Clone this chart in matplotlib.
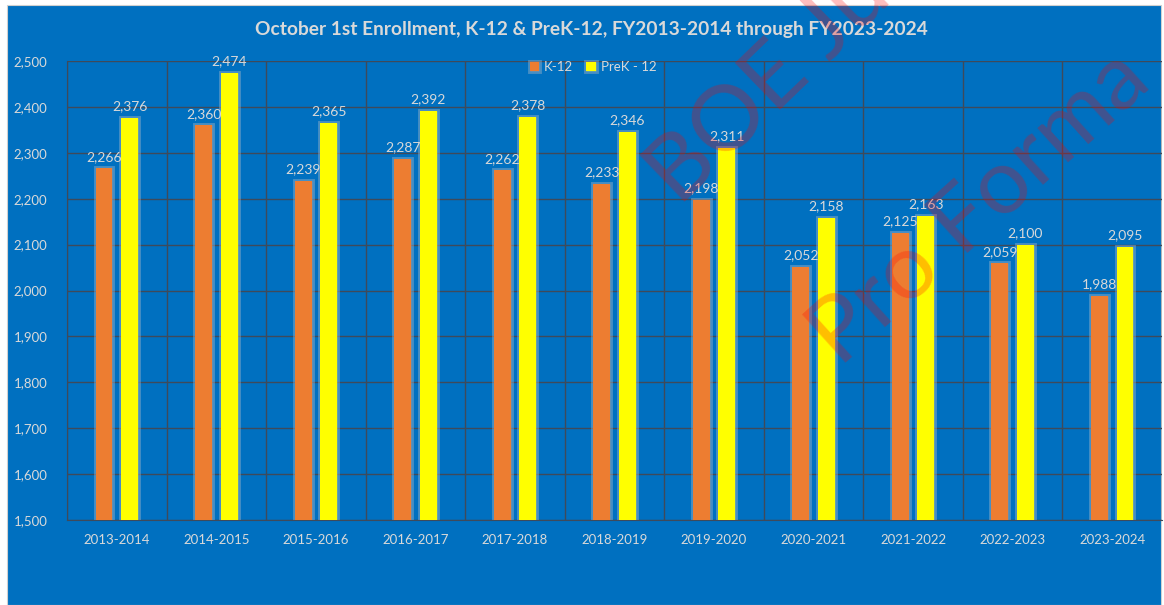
import matplotlib
matplotlib.use("Agg")
import matplotlib.pyplot as plt
import matplotlib.patheffects as pe
from matplotlib.patches import Rectangle
from matplotlib.ticker import FuncFormatter
import numpy as np

# ---------------------------------------------------------------------------
# data
# ---------------------------------------------------------------------------
years = ["2013-2014", "2014-2015", "2015-2016", "2016-2017", "2017-2018",
         "2018-2019", "2019-2020", "2020-2021", "2021-2022", "2022-2023",
         "2023-2024"]
k12 = [2266, 2360, 2239, 2287, 2262, 2233, 2198, 2052, 2125, 2059, 1988]
prek12 = [2376, 2474, 2365, 2392, 2378, 2346, 2311, 2158, 2163, 2100, 2095]

title = "October 1st Enrollment, K-12 & PreK-12, FY2013-2014 through FY2023-2024"

BLUE = "#0070C0"
ORANGE = "#ED7D31"
YELLOW = "#FFFF00"
TXT = "#D9D9D9"
GRID = "#3F4A5A"

plt.rcParams["font.family"] = ["Lato", "DejaVu Sans"]

W, H = 1164, 605
fig = plt.figure(figsize=(W / 100, H / 100), dpi=100)
fig.patch.set_facecolor("white")
fig.patches.append(Rectangle((7 / W, 0), (1161 - 7) / W, 600 / H,
                             transform=fig.transFigure, facecolor=BLUE,
                             edgecolor="#D0D0D0", lw=0.8, zorder=-5))

ax = fig.add_axes([67 / W, 1 - 520 / H, (1162 - 67) / W, (520 - 61) / H])
ax.set_facecolor("none")
ax.set_zorder(2)

x = np.arange(len(years))
bw = 0.17
off = 0.128
glow = [pe.Stroke(linewidth=3.5, foreground="#9FB4C8", alpha=0.45), pe.Normal()]
ax.bar(x - off, np.array(k12) - 1500, bw, bottom=1500, color=ORANGE,
       label="K-12", zorder=3, path_effects=glow)
ax.bar(x + off, np.array(prek12) - 1500, bw, bottom=1500, color=YELLOW,
       label="PreK - 12", zorder=3, path_effects=glow)

for xi, v in zip(x, k12):
    ax.text(xi - off, v + 12, f"{v:,}", ha="center", va="bottom",
            color=TXT, fontsize=10, zorder=5)
for xi, v in zip(x, prek12):
    ax.text(xi + off, v + 12, f"{v:,}", ha="center", va="bottom",
            color=TXT, fontsize=10, zorder=5)

ax.set_xlim(-0.5, len(years) - 0.5)
ax.set_ylim(1500, 2500)
ax.set_yticks(np.arange(1500, 2501, 100))
ax.yaxis.set_major_formatter(FuncFormatter(lambda v, p: f"{int(v):,}"))
ax.set_xticks(x)
ax.set_xticklabels(years)
ax.set_xticks(np.arange(-0.5, len(years), 1), minor=True)
ax.tick_params(axis="both", which="both", length=0, colors=TXT, labelsize=9.5)
ax.tick_params(axis="y", pad=14)
ax.tick_params(axis="x", pad=10)
ax.grid(True, axis="y", color=GRID, lw=1, zorder=1)
ax.grid(True, axis="x", which="minor", color=GRID, lw=1, zorder=1)
for s in ["top", "right"]:
    ax.spines[s].set_visible(False)
ax.spines["left"].set_color(GRID)
ax.spines["bottom"].set_color(GRID)

fig.text(591 / W, 1 - 30 / H, title, ha="center", va="center",
         color=TXT, fontsize=13.8, fontweight="bold")

leg = ax.legend(loc="center", bbox_to_anchor=(593 / W, 1 - 67 / H),
                bbox_transform=fig.transFigure, ncol=2, frameon=False,
                fontsize=9.5, handlelength=0.7, handleheight=0.7,
                columnspacing=1.0, handletextpad=0.4)
for t in leg.get_texts():
    t.set_color(TXT)

# watermark
wm = dict(color="red", alpha=0.26, fontsize=66, fontweight="normal",
          rotation_mode="anchor", ha="left", va="baseline", zorder=10)
fig.text(680 / W, 1 - 208 / H, "BOE Ju", rotation=44, **wm)
fig.text(840 / W, 1 - 368 / H, "Pro Forma", rotation=42, **wm)

fig.savefig("out.png", dpi=100, facecolor=fig.get_facecolor())
